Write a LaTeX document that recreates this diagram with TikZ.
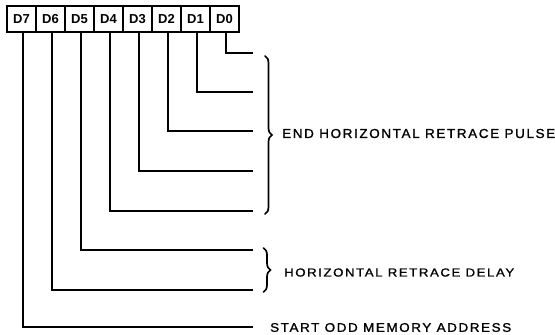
\documentclass[tikz,border=0pt]{standalone}
\usepackage{fontspec}
\usepackage{graphicx}
\setmainfont{Liberation Sans}
\newfontfamily\labfont[LetterSpace=12,FakeBold=1.2]{Liberation Sans}
\usetikzlibrary{decorations.pathreplacing}
\newcommand{\fitlab}[3]{\resizebox{#1pt}{\height}{\fontsize{#2}{#2}\selectfont\labfont #3}}
\begin{document}
\begin{tikzpicture}[x=1pt,y=-1pt,
  regbox/.style={draw,line width=1.3pt,minimum width=29pt,minimum height=26pt,inner sep=0pt,font=\fontsize{13}{13}\selectfont\bfseries},
  wire/.style={line width=1.1pt},
  bracestyle/.style={line width=1.7pt,line cap=round,decorate,decoration={brace,amplitude=7pt}},
  lab/.style={anchor=west,inner sep=0pt}]
\useasboundingbox (0,0) rectangle (555,335);
\foreach \n [count=\i from 0] in {7,6,5,4,3,2,1,0} {
  \node[regbox] (d\n) at (21.5+29*\i,19) {D\n};
}
\foreach \n/\y in {0/53,1/92,2/131,3/171,4/211,5/250,6/290,7/327} {
  \coordinate (e\n) at (253,\y);
  \draw[wire] ([xshift=1.5pt]d\n.south) |- (e\n);
}
\draw[bracestyle] (265,56) -- (265,214) coordinate[midway] (b1);
\draw[bracestyle] (263.5,248) -- (263.5,292) coordinate[midway] (b2);
\node[lab] (t1) at (282,133.5) {\fitlab{273}{13}{END HORIZONTAL RETRACE PULSE}};
\node[lab] (t2) at (284,272.5) {\fitlab{230}{11.6}{HORIZONTAL RETRACE DELAY}};
\node[lab] (t3) at (270,327.5) {\fitlab{241}{12.5}{START ODD MEMORY ADDRESS}};
\end{tikzpicture}
\end{document}
